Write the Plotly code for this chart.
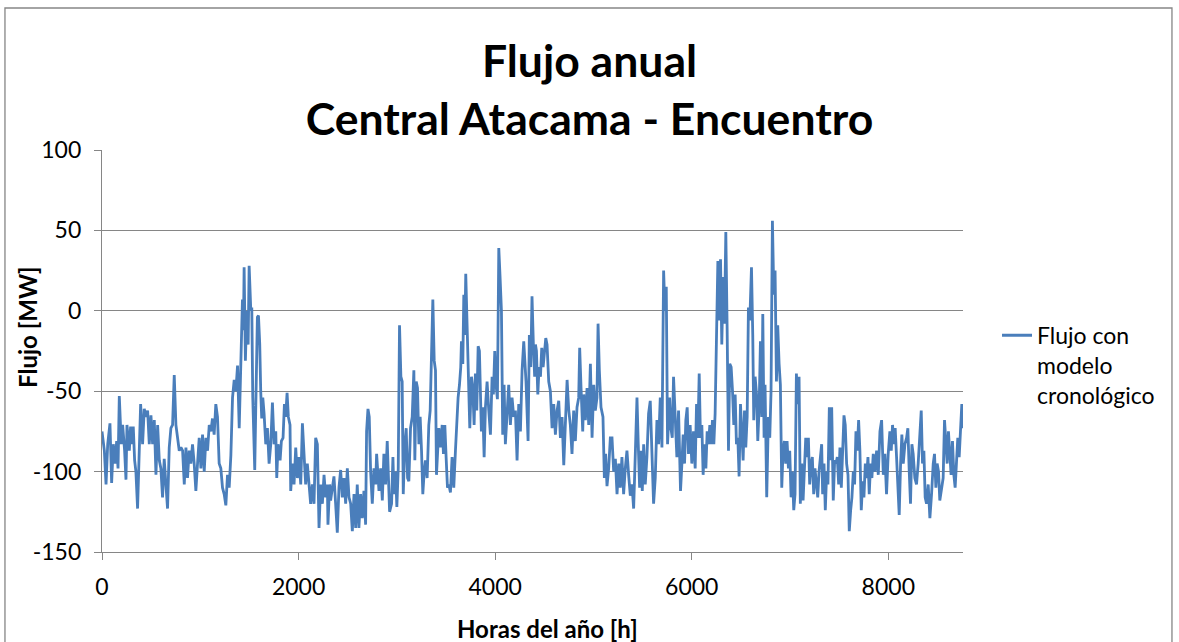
import plotly.graph_objects as go

# Hourly power flow on the Atacama - Encuentro line over one year (MW)
horas = [
    0, 24, 41, 58, 81, 98, 115, 135, 149, 163,
    176, 196, 210, 230, 244, 254, 278, 291, 305, 318,
    332, 345, 362, 379, 393, 413, 430, 447, 464, 481,
    498, 515, 532, 549, 566, 583, 599, 616, 633, 650,
    667, 684, 701, 718, 735, 752, 769, 786, 803, 820,
    837, 854, 870, 887, 904, 921, 938, 955, 972, 989,
    1006, 1023, 1040, 1057, 1074, 1091, 1108, 1124, 1141, 1158,
    1175, 1192, 1209, 1226, 1243, 1260, 1277, 1294, 1311, 1328,
    1345, 1362, 1379, 1396, 1412,
    1422, 1429, 1439, 1446, 1459, 1473, 1487, 1497, 1514, 1524,
    1534, 1547, 1554, 1564, 1581, 1592, 1605, 1615, 1625, 1636,
    1649, 1666, 1683, 1700, 1717, 1734, 1751, 1768, 1778, 1791,
    1812, 1825, 1842, 1856, 1869, 1883, 1896, 1913, 1920, 1937,
    1954, 1971, 1988, 2005, 2022, 2039, 2056, 2072, 2089, 2106,
    2123, 2140, 2157, 2174, 2191, 2208, 2225, 2242, 2259, 2276,
    2293, 2299, 2316, 2326, 2343, 2360, 2377, 2394, 2411, 2428,
    2445, 2462, 2479, 2496, 2513, 2530, 2547, 2564, 2581, 2597,
    2614, 2631, 2648, 2665, 2682, 2692, 2706, 2719, 2733, 2750,
    2767, 2784, 2794, 2807, 2818, 2835, 2852, 2868,
    2885, 2902, 2912, 2926, 2946, 2960, 2970, 2987, 3000, 3014,
    3027, 3041, 3054, 3065, 3081, 3095, 3109, 3122, 3139, 3156,
    3173, 3183, 3197, 3210, 3224, 3237, 3251, 3264, 3278, 3291,
    3308, 3325, 3339, 3352, 3366, 3380, 3393, 3403, 3417, 3427,
    3444, 3461, 3474, 3488, 3501, 3515, 3529, 3545, 3562, 3579,
    3596, 3613, 3623, 3637, 3650, 3657, 3671, 3681, 3691, 3701,
    3715, 3732, 3742, 3759, 3772, 3786, 3799, 3813, 3827, 3840,
    3850, 3860, 3874, 3888, 3901, 3918, 3935, 3952, 3969, 3982,
    3996, 4009, 4023, 4037, 4050, 4064, 4077, 4091, 4104, 4121,
    4138, 4155, 4172, 4189, 4206, 4223, 4240, 4257, 4274, 4291,
    4301, 4314, 4335, 4348, 4362, 4375, 4389, 4402,
    4410, 4420, 4434, 4447, 4461, 4474, 4488, 4501, 4515, 4528,
    4545, 4562, 4579, 4596, 4613, 4630, 4647, 4664, 4681, 4698,
    4715, 4732, 4749, 4765, 4782, 4799, 4816, 4833, 4850, 4860,
    4874, 4891, 4901, 4918, 4935, 4952, 4969, 4986, 5003, 5019,
    5036, 5047, 5060, 5077, 5097, 5111, 5124, 5138, 5155, 5172,
    5189, 5206, 5223, 5240, 5257, 5273, 5290, 5307, 5324, 5341,
    5358, 5375, 5392, 5409, 5426, 5443, 5456, 5470, 5483, 5497,
    5511, 5527, 5544, 5561, 5578, 5595, 5612, 5629, 5646, 5663,
    5680, 5697, 5714, 5727, 5741, 5754, 5775, 5788, 5802, 5815,
    5832, 5849, 5866,
    5886, 5900, 5913, 5927, 5940, 5954, 5967, 5984, 6001, 6018,
    6035, 6049, 6062, 6076, 6089, 6103, 6116, 6130, 6144, 6157,
    6171, 6184, 6198, 6211, 6225, 6238, 6252, 6266, 6279, 6293,
    6306, 6320, 6333, 6347, 6360, 6374, 6387, 6401, 6415, 6428,
    6442, 6455, 6469, 6482, 6496, 6509, 6523, 6537, 6550, 6564,
    6577, 6591, 6608, 6621, 6631, 6645, 6662, 6672, 6686, 6699,
    6713, 6723, 6736, 6746, 6763, 6780, 6794, 6807, 6821, 6835,
    6848, 6862, 6875, 6889, 6902, 6916, 6929, 6943, 6956, 6970,
    6984, 6997, 7011, 7024, 7038, 7051, 7065, 7078, 7092, 7105,
    7119, 7133, 7146, 7160, 7173, 7187, 7200, 7214, 7227, 7241,
    7254, 7268, 7282, 7295,
    7322, 7332, 7346, 7359, 7373, 7386, 7400, 7413, 7424, 7440,
    7454, 7468, 7481, 7495, 7508, 7522, 7535, 7549, 7562, 7576,
    7590, 7603, 7617, 7630, 7644, 7657, 7671, 7684, 7698, 7711,
    7725, 7739, 7752, 7766, 7779, 7793, 7806, 7820, 7833, 7847,
    7864, 7881, 7898, 7915, 7932, 7949, 7965, 7982, 7999, 8016,
    8030, 8043, 8057, 8070, 8084, 8098, 8111, 8125, 8138, 8152,
    8169, 8186, 8199, 8213, 8226, 8240, 8253, 8270, 8287, 8304,
    8321, 8335, 8348, 8362, 8375, 8389, 8406, 8423, 8440, 8457,
    8470, 8484, 8497, 8511, 8524, 8541, 8558, 8572, 8585, 8599,
    8612, 8626, 8639, 8653, 8667, 8680, 8694, 8707, 8721, 8734,
    8748, 8760,
]

flujo_mw = [
    -75, -87, -108, -83, -70, -107, -83, -95, -81, -98,
    -53, -83, -71, -87, -105, -71, -87, -72, -83, -72,
    -93, -100, -123, -83, -58, -83, -61, -66, -62, -83,
    -65, -83, -68, -102, -71, -93, -98, -116, -92, -108,
    -123, -85, -73, -71, -40, -71, -81, -87, -85, -87,
    -108, -85, -104, -87, -95, -83, -95, -112, -95, -79,
    -98, -77, -100, -79, -87, -71, -75, -67, -77, -58,
    -66, -95, -98, -110, -114, -121, -102, -110, -90, -54,
    -43, -50, -34, -73, -34,
    4, 7, -12, 27, -31, 0, -21, 28, 0, 2,
    -54, -83, -99, -62, -4, -3, -21, -50, -67, -54,
    -64, -83, -73, -95, -83, -57, -83, -75, -104, -83,
    -93, -81, -79, -58, -66, -51, -66, -71, -112, -95,
    -108, -85, -104, -91, -108, -70, -95, -108, -95, -106,
    -120, -108, -120, -79, -83, -135, -108, -120, -102, -116,
    -108, -133, -108, -118, -110, -103, -120, -138, -110, -99,
    -116, -104, -120, -98, -116, -120, -137, -114, -135, -108,
    -135, -114, -129, -112, -133, -75, -61, -66, -100, -120,
    -98, -108, -89, -100, -112, -98, -118, -89,
    -108, -81, -95, -125, -120, -91, -114, -100, -122, -98,
    -9, -41, -44, -114, -83, -73, -104, -106, -73, -66,
    -37, -93, -44, -48, -83, -66, -87, -114, -100, -93,
    -104, -71, -62, -31, 7, -31, -37, -102, -81, -73,
    -85, -71, -89, -71, -91, -110, -108, -113, -91, -110,
    -87, -65, -54, -46, -35, -19, -33, 10, -15, 23,
    -4, -50, -73, -41, -48, -71, -39, -62, -22, -25,
    -50, -75, -60, -91, -60, -44, -62, -77, -41, -52,
    -25, -46, -55, 39, 21, 0, -77, -46, -83, -62,
    -46, -71, -54, -66, -62, -93, -58, -75, -37, -19,
    -29, -44, -81, -15, -35, 9, -21, -41,
    -21, -25, -52, -35, -41, -23, -35, -25, -17, -21,
    -44, -50, -73, -58, -77, -62, -56, -79, -66, -96,
    -62, -43, -62, -71, -89, -62, -81, -60, -54, -23,
    -48, -75, -52, -68, -48, -71, -33, -79, -46, -62,
    -54, -8, -37, -60, -66, -104, -89, -109, -98, -79,
    -79, -100, -92, -114, -95, -110, -91, -114, -98, -87,
    -102, -115, -108, -123, -89, -54, -83, -110, -87, -112,
    -83, -108, -91, -64, -56, -83, -120, -104, -68, -83,
    -54, -85, 25, 0, 15, -83, -54, -73, -79, -41,
    -64, -91, -62,
    -112, -95, -77, -95, -68, -60, -89, -71, -95, -75,
    -98, -58, -79, -39, -79, -71, -102, -83, -98, -75,
    -83, -71, -83, -68, -83, -64, -8, 31, -6, 32,
    -21, 21, -8, 49, -10, -87, -33, -35, -50, -71,
    -52, -83, -79, -103, -58, -73, -93, -62, -85, -66,
    2, -6, 27, -15, -68, -41, -54, -81, -60, -19,
    -66, -2, -79, -46, -116, -66, -79, -50, 56, 10,
    25, -44, -9, -33, -46, -110, -87, -81, -95, -81,
    -98, -87, -116, -100, -124, -114, -39, -58, -41, -120,
    -95, -118, -100, -79, -91, -79, -108, -95, -91, -114,
    -98, -108, -116, -100,
    -83, -114, -95, -124, -100, -108, -60, -93, -60, -118,
    -93, -95, -91, -108, -85, -110, -91, -65, -71, -95,
    -102, -137, -124, -116, -100, -108, -75, -87, -68, -87,
    -124, -106, -116, -95, -104, -91, -114, -95, -104, -89,
    -100, -87, -102, -75, -68, -102, -89, -114, -89, -75,
    -87, -71, -83, -73, -91, -116, -127, -95, -77, -95,
    -83, -79, -73, -100, -120, -83, -89, -104, -108, -95,
    -75, -62, -95, -87, -116, -120, -108, -129, -114, -95,
    -89, -110, -95, -100, -118, -110, -104, -68, -79, -95,
    -75, -87, -102, -81, -102, -110, -95, -79, -91, -77,
    -58, -73,
]

x_ticks = [0, 2000, 4000, 6000, 8000]
y_ticks = [-150, -100, -50, 0, 50, 100]

titulo = "Flujo anual<br>Central Atacama - Encuentro"
titulo_x = "Horas del año [h]"
titulo_y = "Flujo [MW]"
nombre_serie = "Flujo con<br>modelo<br>cronológico"

GRIS = "#868686"
AZUL = "#4A7EBB"
FUENTE = "Lato"

fig = go.Figure()
fig.add_trace(go.Scatter(
    x=horas, y=flujo_mw, mode="lines", name=nombre_serie,
    line=dict(color=AZUL, width=2.8),
))

fig.update_layout(
    width=1179, height=642,
    margin=dict(l=102, r=216, t=150, b=90),
    paper_bgcolor="white", plot_bgcolor="white",
    font=dict(family=FUENTE, color="black", size=23),
    title=dict(
        text=titulo, x=0.5, xref="container", xanchor="center",
        y=1 - 77 / 642, yref="container", yanchor="middle",
        font=dict(family=FUENTE, size=44.5, weight="bold", color="black"),
    ),
    showlegend=True,
    legend=dict(
        x=1.0395, xanchor="left", y=0.5925, yanchor="top",
        font=dict(family=FUENTE, size=23, color="black"),
        valign="top", bgcolor="rgba(0,0,0,0)",
    ),
    xaxis=dict(
        range=[0, 8760], tickvals=x_ticks, ticktext=[str(v) for v in x_ticks],
        showgrid=False, zeroline=False,
        showline=True, linecolor=GRIS, linewidth=1.3,
        ticks="outside", ticklen=7, tickcolor=GRIS, tickwidth=1.3,
        tickfont=dict(family=FUENTE, size=23, color="black"),
        ticklabelstandoff=7,
    ),
    yaxis=dict(
        range=[-150, 100], tickvals=y_ticks, ticktext=[str(v) for v in y_ticks],
        showgrid=True, gridcolor=GRIS, gridwidth=1.3, zeroline=False,
        showline=True, linecolor=GRIS, linewidth=1.3,
        ticks="outside", ticklen=7, tickcolor=GRIS, tickwidth=1.3,
        tickfont=dict(family=FUENTE, size=23, color="black"),
        ticklabelstandoff=8,
    ),
    annotations=[
        dict(text=titulo_x, xref="paper", yref="paper", x=0.518, y=-0.1915,
             xanchor="center", yanchor="middle", showarrow=False,
             font=dict(family=FUENTE, size=24, weight="bold", color="black")),
        dict(text=titulo_y, xref="paper", yref="paper", x=-0.0859, y=0.56,
             xanchor="center", yanchor="middle", showarrow=False, textangle=-90,
             font=dict(family=FUENTE, size=24, weight="bold", color="black")),
    ],
    shapes=[
        dict(type="rect", xref="paper", yref="paper",
             x0=-0.1127, x1=1.2427, y0=-0.30, y1=1.3532,
             line=dict(color=GRIS, width=1.3), fillcolor="rgba(0,0,0,0)",
             layer="below"),
    ],
)

fig.write_html("out.html")
